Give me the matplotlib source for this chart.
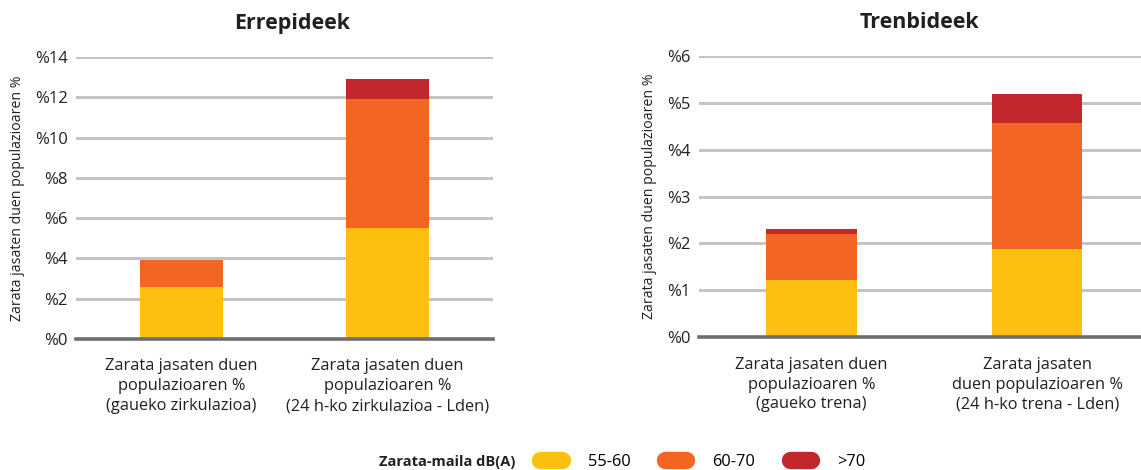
import matplotlib.pyplot as plt
from matplotlib.lines import Line2D
import numpy as np

plt.rcParams['font.family'] = ['Open Sans', 'DejaVu Sans']

# data
road_cats = ["Zarata jasaten duen\npopulazioaren %\n(gaueko zirkulazioa)",
             "Zarata jasaten duen\npopulazioaren %\n(24 h-ko zirkulazioa - Lden)"]
road_55_60 = [2.6, 5.5]
road_60_70 = [1.3, 6.4]
road_70 = [0.0, 1.0]

rail_cats = ["Zarata jasaten duen\npopulazioaren %\n(gaueko trena)",
             "Zarata jasaten\nduen populazioaren %\n(24 h-ko trena - Lden)"]
rail_55_60 = [1.22, 1.88]
rail_60_70 = [0.98, 2.68]
rail_70 = [0.11, 0.62]

levels = ["55-60", "60-70", ">70"]
colors = ["#FDC010", "#F26522", "#C1272D"]

fig = plt.figure(figsize=(11.41, 4.70), dpi=100)
ax1 = fig.add_axes([0.0666, 0.2787, 0.3655, 0.6]) 
ax2 = fig.add_axes([0.6124, 0.2823, 0.3876, 0.5992])


def draw(ax, cats, s1, s2, s3, ymax, step, title, xlim, title_x):
    x = np.arange(len(cats))
    b1 = np.array(s1)
    b2 = b1 + np.array(s2)
    ax.bar(x, s1, width=0.4, color=colors[0], zorder=3)
    ax.bar(x, s2, bottom=b1, width=0.4, color=colors[1], zorder=3)
    ax.bar(x, s3, bottom=b2, width=0.4, color=colors[2], zorder=3)
    ax.set_xlim(*xlim)
    ax.set_ylim(0, ymax)
    ticks = np.arange(0, ymax + 0.01, step)
    ax.set_yticks(ticks)
    ax.set_yticklabels(["%" + str(int(t)) for t in ticks], fontsize=12, color="#231f20")
    for t in ticks[1:]:
        ax.axhline(t, color="#c4c4c4", lw=2.2, zorder=1)
    ax.axhline(0, color="#6d6e71", lw=2.6, zorder=4, clip_on=False)
    ax.set_xticks(x)
    ax.set_xticklabels(cats, fontsize=11.8, color="#231f20", linespacing=1.32)
    ax.tick_params(length=0, pad=6)
    ax.tick_params(axis="x", pad=14)
    for s in ax.spines.values():
        s.set_visible(False)
    ax.set_ylabel("Zarata jasaten duen populazioaren %", fontsize=10.2, color="#231f20", labelpad=7)
    ax.set_title(title, fontsize=15.5, fontweight="bold", color="#231f20", pad=20, x=title_x)


draw(ax1, road_cats, road_55_60, road_60_70, road_70, 14, 2, "Errepideek", (-0.51, 1.51), 0.518)
draw(ax2, rail_cats, rail_55_60, rail_60_70, rail_70, 6, 1, "Trenbideek", (-0.50, 1.46), 0.5)

handles = [Line2D([0], [0], color=c, lw=12.5, solid_capstyle="round") for c in colors]
fig.legend(handles, levels, loc="center", bbox_to_anchor=(0.616, 0.018), ncol=3, frameon=False,
           fontsize=11.8, handlelength=1.3, columnspacing=2.1, handletextpad=1.6)
fig.text(0.4515, 0.018, "Zarata-maila dB(A)", fontsize=10.5, fontweight="bold", color="#231f20",
         ha="right", va="center")

plt.savefig("out.png", dpi=100)
